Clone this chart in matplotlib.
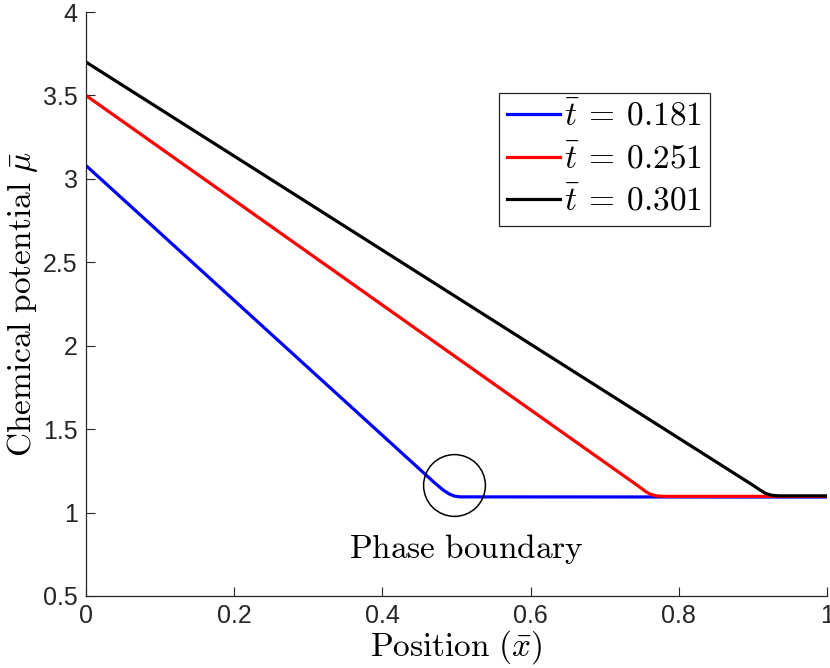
import matplotlib
matplotlib.use("Agg")
import matplotlib.pyplot as plt

plt.rcParams['mathtext.fontset'] = 'cm'
plt.rcParams['font.family'] = ['Liberation Sans', 'DejaVu Sans']

# Data
x_blue = [0.0, 0.470, 0.482, 0.490, 0.497, 0.505, 1.0]
y_blue = [3.08, 1.180, 1.135, 1.112, 1.099, 1.094, 1.093]
x_red = [0.0, 0.745, 0.755, 0.762, 0.770, 0.780, 1.0]
y_red = [3.50, 1.160, 1.127, 1.109, 1.100, 1.097, 1.097]
x_black = [0.0, 0.900, 0.910, 0.917, 0.925, 0.935, 1.0]
y_black = [3.70, 1.164, 1.134, 1.115, 1.104, 1.100, 1.100]
labels = [r'$\bar{t}\:=\:0.181$', r'$\bar{t}\:=\:0.251$', r'$\bar{t}\:=\:0.301$']
colors = ['#0000ff', '#ff0000', '#000000']
circle_x = [0.497]
circle_y = [1.163]
annot_text = r'$\mathrm{Phase\ boundary}$'
annot_pos = (0.514, 0.783)
xticks = [0, 0.2, 0.4, 0.6, 0.8, 1.0]
xticklabels = ['0', '0.2', '0.4', '0.6', '0.8', '1']
yticks = [0.5, 1, 1.5, 2, 2.5, 3, 3.5, 4]
yticklabels = ['0.5', '1', '1.5', '2', '2.5', '3', '3.5', '4']

fig = plt.figure(figsize=(8.3, 6.68), dpi=100)
ax = fig.add_axes([0.1036, 0.1078, 0.8928, 0.8742])

for xs, ys, lab, c in zip([x_blue, x_red, x_black], [y_blue, y_red, y_black], labels, colors):
    ax.plot(xs, ys, color=c, lw=2.3, label=lab, solid_joinstyle='round')

ax.plot(circle_x, circle_y, 'o', ms=44.5, mfc='none', mec='black', mew=1.1)
ax.text(annot_pos[0], annot_pos[1], annot_text, ha='center', va='center', fontsize=24)

ax.set_xlim(0, 1)
ax.set_ylim(0.5, 4)
ax.set_xticks(xticks)
ax.set_xticklabels(xticklabels)
ax.set_yticks(yticks)
ax.set_yticklabels(yticklabels)
ax.tick_params(direction='in', length=6.5, width=0.8, labelsize=18, colors='#262626')
ax.tick_params(axis='x', pad=6)
ax.tick_params(axis='y', pad=6)
for s in ['top', 'right']:
    ax.spines[s].set_visible(False)
for s in ['left', 'bottom']:
    ax.spines[s].set_color('#262626')
    ax.spines[s].set_linewidth(0.9)

ax.set_xlabel(r'$\mathrm{Position}\ (\bar{x})$', fontsize=24, labelpad=0)
ax.set_ylabel(r'$\mathrm{Chemical\ potential}\ \bar{\mu}$', fontsize=24, labelpad=2)

leg = ax.legend(loc='upper left', bbox_to_anchor=(0.557, 0.861), fontsize=24,
                frameon=True, fancybox=False, edgecolor='#262626', framealpha=1,
                handlelength=1.6, handletextpad=0.1, borderpad=0.25, labelspacing=0.33,
                borderaxespad=0)
leg.get_frame().set_linewidth(0.9)

fig.savefig('out.png', dpi=100)
